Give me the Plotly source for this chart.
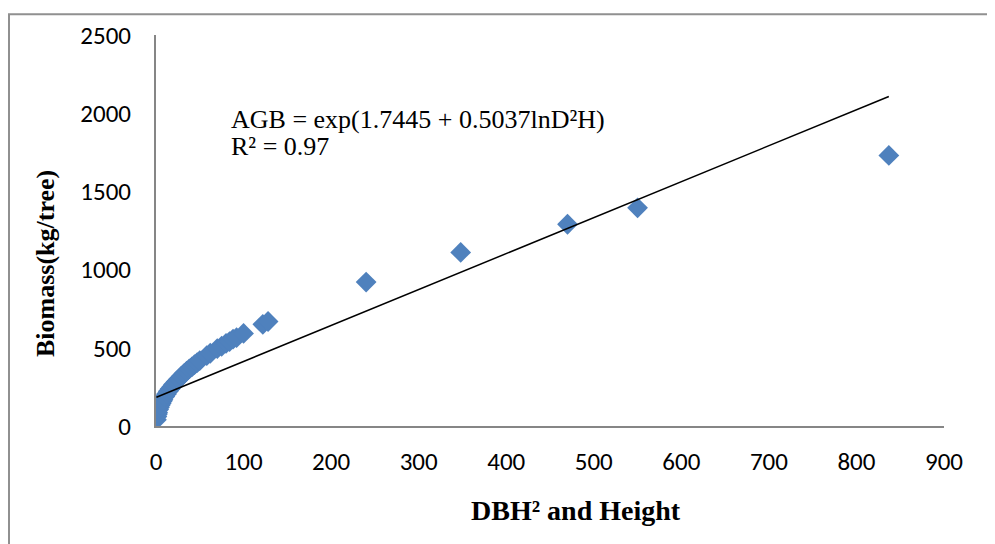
import plotly.graph_objects as go

dbh2h = [0.5, 1, 1.5, 2, 3, 4, 5, 6, 7, 8, 10, 12, 14, 16, 18, 20, 23, 26, 29, 32,
         35, 38, 41, 44, 47, 50, 58, 62, 70, 75, 80, 84, 88, 92, 100,
         122, 128, 240, 348, 470, 550, 837]
biomass = [40, 60, 75, 85, 105, 120, 135, 145, 158, 168, 188, 205, 222, 237, 250, 265, 283, 300, 318, 335,
           350, 365, 378, 392, 405, 418, 450, 465, 495, 510, 528, 540, 555, 565, 592,
           650, 668, 920, 1110, 1290, 1395, 1730]

# Trendline end points
trend_x = [0.5, 837]
trend_y = [184, 2107]

x_ticks = [0, 100, 200, 300, 400, 500, 600, 700, 800, 900]
y_ticks = [0, 500, 1000, 1500, 2000, 2500]

fig = go.Figure()
fig.add_trace(go.Scatter(
    x=dbh2h, y=biomass, mode="markers",
    marker=dict(symbol="diamond", size=16, color="#4F81BD", line=dict(width=0)),
    showlegend=False, hoverinfo="x+y"))
fig.add_trace(go.Scatter(
    x=trend_x, y=trend_y, mode="lines",
    line=dict(color="black", width=1.5), showlegend=False))

OFF = 8  # page body margin
W, H = 995 - OFF, 544 - OFF
# target screen positions of plot area: x 156..944, y 30..426
L, T = 156 - OFF, 30 - OFF
pw, ph = 788, 396
R, B = W - L - pw, H - T - ph

def px(sx):
    return (sx - OFF - L) / pw

def py(sy):
    return (T + ph - (sy - OFF)) / ph

tickfont = dict(family="Carlito, Calibri, Open Sans", size=25, color="black")
serif = "Liberation Serif"

fig.update_layout(
    width=W, height=H,
    margin=dict(l=L, r=R, t=T, b=B),
    paper_bgcolor="white", plot_bgcolor="white",
    font=dict(family="Open Sans", size=19, color="black"),
    xaxis=dict(range=[0, 900], tickvals=x_ticks, showgrid=False, zeroline=False,
               showline=True, linecolor="#868686", linewidth=2, ticks="",
               ticklabelstandoff=12, tickfont=tickfont),
    yaxis=dict(range=[0, 2500], tickvals=y_ticks, showgrid=False, zeroline=False,
               showline=True, linecolor="#868686", linewidth=2, ticks="",
               ticklabelstandoff=18, tickfont=tickfont),
    annotations=[
        dict(x=px(229), y=py(116), xref="paper", yref="paper", xanchor="left", yanchor="middle",
             showarrow=False,
             text="AGB = exp(1.7445 + 0.5037lnD²H)",
             font=dict(family=serif, size=26, color="black")),
        dict(x=px(229), y=py(143), xref="paper", yref="paper", xanchor="left", yanchor="middle",
             showarrow=False,
             text="R² = 0.97",
             font=dict(family=serif, size=26, color="black")),
        dict(x=px(576), y=py(512), xref="paper", yref="paper",
             xanchor="center", yanchor="middle", showarrow=False,
             text="<b>DBH² and Height</b>",
             font=dict(family=serif, size=28, color="black")),
        dict(x=px(45), y=py(262), xref="paper", yref="paper",
             xanchor="center", yanchor="middle", showarrow=False, textangle=-90,
             text="<b>Biomass(kg/tree)</b>",
             font=dict(family=serif, size=26, color="black")),
    ],
    shapes=[
        dict(type="rect", xref="paper", yref="paper",
             x0=px(9), x1=px(1010), y0=py(560), y1=py(9),
             line=dict(color="#909090", width=2), fillcolor="rgba(0,0,0,0)", layer="below"),
    ],
)

fig.write_html("out.html")
